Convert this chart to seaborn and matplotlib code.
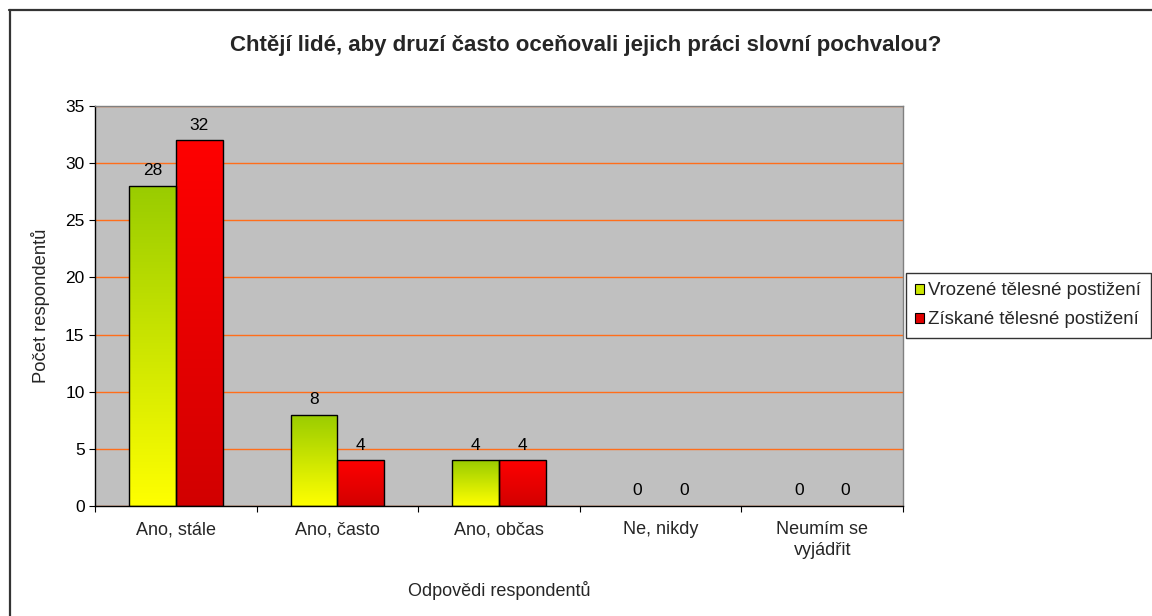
import numpy as np
import pandas as pd
import matplotlib
matplotlib.use("Agg")
import matplotlib.pyplot as plt
import matplotlib.colors as mcolors
from matplotlib.patches import Patch
from matplotlib.lines import Line2D
import seaborn as sns

# Survey answers and respondent counts
odpovedi = ["Ano, stále", "Ano, často", "Ano, občas", "Ne, nikdy", "Neumím se\nvyjádřit"]
skupiny = ["Vrozené tělesné postižení", "Získané tělesné postižení"]
vrozene = [28, 8, 4, 0, 0]
ziskane = [32, 4, 4, 0, 0]

title = "Chtějí lidé, aby druzí často oceňovali jejich práci slovní pochvalou?"
ylabel = "Počet respondentů"
xlabel = "Odpovědi respondentů"

df = pd.DataFrame({
    "odpoved": odpovedi * 2,
    "skupina": [skupiny[0]] * len(odpovedi) + [skupiny[1]] * len(odpovedi),
    "pocet": vrozene + ziskane,
})

sns.set_style("white")
plt.rcParams["font.family"] = ["Liberation Sans", "DejaVu Sans"]

W, H, DPI = 1152, 616, 100
fig = plt.figure(figsize=(W / DPI, H / DPI), dpi=DPI)
ax = fig.add_axes([95 / W, 1 - 506 / H, (903 - 95) / W, (506 - 106) / H])

# gradient endpoints (top, bottom) for each group
gradients = {
    skupiny[0]: ("#99CC00", "#FFFF00"),
    skupiny[1]: ("#FF0000", "#D20000"),
}

sns.barplot(data=df, x="odpoved", y="pocet", hue="skupina", hue_order=skupiny,
            palette=["#CCE600", "#E00000"], width=0.58, edgecolor="black",
            linewidth=1.0, legend=False, ax=ax, zorder=3)

ax.set_facecolor("#C0C0C0")
ax.set_yticks(np.arange(0, 36, 5))
ax.yaxis.grid(True, color="#FF6E1A", linewidth=1.0, zorder=0)
ax.set_axisbelow(True)
for gl in ax.get_ygridlines():
    gl.set_snap(True)

# replace flat fills by vertical gradients clipped to each bar
for container, grp in zip(ax.containers, skupiny):
    top_c, bot_c = gradients[grp]
    cmap = mcolors.LinearSegmentedColormap.from_list(grp, [bot_c, top_c])
    grad = np.linspace(0, 1, 256).reshape(-1, 1)
    for bar, val in zip(container, df[df["skupina"] == grp]["pocet"]):
        x0, w = bar.get_x(), bar.get_width()
        if val <= 0:
            bar.set_visible(False)
        else:
            bar.set_facecolor("none")
            im = ax.imshow(grad, cmap=cmap, origin="lower", aspect="auto",
                           extent=(x0, x0 + w, 0, val), zorder=2.5,
                           interpolation="bilinear")
            im.set_clip_path(bar)
        ax.annotate(f"{val:g}", (x0 + w / 2, val), xytext=(0, 11),
                    textcoords="offset points", ha="center", va="center",
                    fontsize=12.5, color="black", zorder=5)

ax.set_xlim(-0.5, len(odpovedi) - 0.5)
ax.set_ylim(0, 35)

# spines
for side in ["left", "bottom"]:
    ax.spines[side].set_color("black")
    ax.spines[side].set_linewidth(1.0)
for side in ["top", "right"]:
    ax.spines[side].set_color("#808080")
    ax.spines[side].set_linewidth(1.0)

# ticks: y outward, x between categories
ax.tick_params(axis="y", length=4.5, width=0.8, pad=3, labelsize=12.5,
               direction="out", left=True, colors="black")
ax.set_xticks(range(len(odpovedi)))
ax.set_xticklabels(odpovedi, fontsize=13, linespacing=1.25)
ax.set_xticks(np.arange(-0.5, len(odpovedi), 1), minor=True)
ax.tick_params(axis="x", which="major", length=0, pad=11)
ax.tick_params(axis="x", which="minor", length=4.5, width=0.8,
               direction="out", bottom=True, color="black")
for lbl in ax.get_xticklabels():
    lbl.set_va("top")

ax.set_ylabel(ylabel, fontsize=13.2)
ax.set_xlabel(xlabel, fontsize=13)
ax.yaxis.set_label_coords((41 - 95) / (903 - 95), 0.5)
ax.xaxis.set_label_coords(0.5, (506 - 591) / (506 - 106))
ax.xaxis.label.set_va("center")
ax.yaxis.label.set_va("center")

fig.text(586 / W, 1 - 45 / H, title, ha="center", va="center",
         fontsize=16, fontweight="bold")

# chart frame (top and left edges)
fig.add_artist(Line2D([9 / W, 1.0], [1 - 9.5 / H, 1 - 9.5 / H],
                      transform=fig.transFigure, color="#333333", linewidth=1.6))
fig.add_artist(Line2D([9.5 / W, 9.5 / W], [0, 1 - 9.5 / H],
                      transform=fig.transFigure, color="#333333", linewidth=1.6))

handles = [Patch(facecolor="#CCE600", edgecolor="black", linewidth=0.8),
           Patch(facecolor="#E00000", edgecolor="black", linewidth=0.8)]
leg = fig.legend(handles, skupiny, loc="upper left",
                 bbox_to_anchor=(906 / W, 1 - 273 / H), fontsize=13.4,
                 frameon=True, fancybox=False, handlelength=0.45,
                 handleheight=0.45, handletextpad=0.25, labelspacing=0.65,
                 borderpad=0.5, borderaxespad=0)
leg.get_frame().set_edgecolor("black")
leg.get_frame().set_linewidth(1.0)

fig.savefig("out.png", dpi=DPI, facecolor="white")
